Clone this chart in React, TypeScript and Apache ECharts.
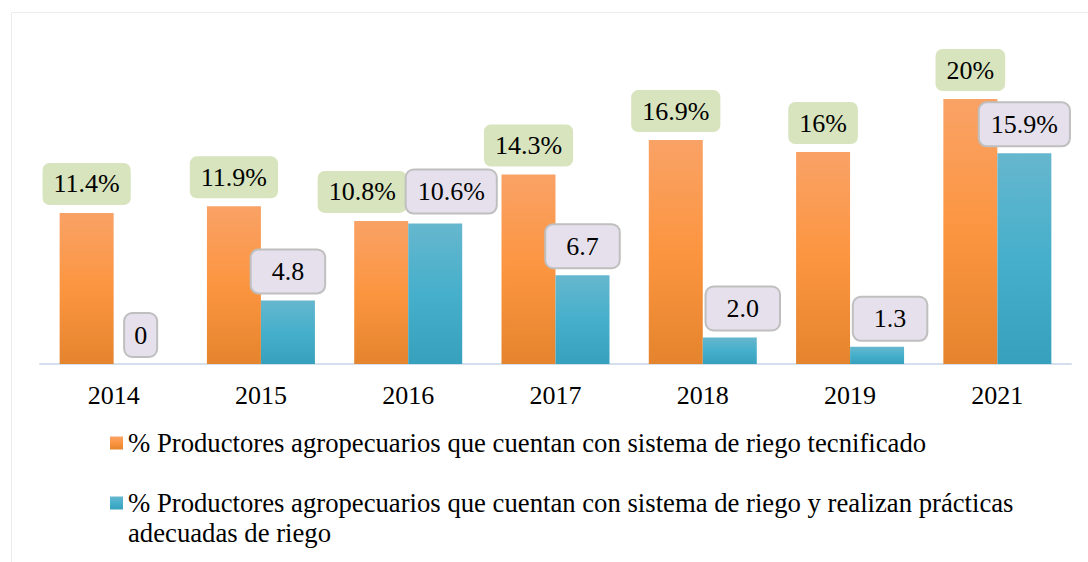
import React, { useEffect, useRef } from "react";
import * as echarts from "echarts";

const years = ["2014", "2015", "2016", "2017", "2018", "2019", "2021"];
const tecnificado = [11.4, 11.9, 10.8, 14.3, 16.9, 16, 20];
const practicas = [0, 4.8, 10.6, 6.7, 2.0, 1.3, 15.9];
const tecnificadoLabels = ["11.4%", "11.9%", "10.8%", "14.3%", "16.9%", "16%", "20%"];
const practicasLabels = ["0", "4.8", "10.6%", "6.7", "2.0", "1.3", "15.9%"];
const legendLines1 = ["% Productores agropecuarios que cuentan con sistema de riego tecnificado"];
const legendLines2 = [
  "% Productores agropecuarios que cuentan con sistema de riego y realizan prácticas",
  "adecuadas de riego",
];
const seriesNames = [legendLines1.join(" "), legendLines2.join(" ")];

const FONT = "Liberation Serif";

const orangeGrad = new echarts.graphic.LinearGradient(0, 0, 0, 1, [
  { offset: 0, color: "#f9a266" },
  { offset: 0.5, color: "#fc9540" },
  { offset: 1, color: "#e5842e" },
]);
const blueGrad = new echarts.graphic.LinearGradient(0, 0, 0, 1, [
  { offset: 0, color: "#66b7ce" },
  { offset: 0.5, color: "#46afcb" },
  { offset: 1, color: "#37a0bc" },
]);

const bluePad = (t: string) => (t.length <= 1 ? [8, 9] : t.length <= 3 ? [8, 20] : [8, 11]);
// label nudges (pixels) to keep boxes clear of neighbouring bars
const orangeOffsets: Record<number, number[]> = { 2: [-19, 0] };
const blueOffsets: Record<number, number[]> = { 2: [16, -3], 4: [13, 0], 5: [13, 1] };

const labelRich = {
  t: { fontFamily: FONT, fontSize: 26, lineHeight: 26, color: "#000" },
};

export default function App() {
  const ref = useRef<HTMLDivElement>(null);
  useEffect(() => {
    if (!ref.current) return;
    const chart = echarts.init(ref.current, undefined, { renderer: "svg" });
    const option: any = {
      animation: false,
      backgroundColor: "#ffffff",
      textStyle: { fontFamily: FONT },
      graphic: [
        {
          type: "rect",
          z: -10,
          shape: { x: 11.5, y: 12.5, width: 1100, height: 600 },
          style: { fill: "none", stroke: "#ececec", lineWidth: 1 },
        },
      ],
      grid: { left: 40, right: 17, top: 99, bottom: 198 },
      xAxis: {
        type: "category",
        data: years,
        axisLine: { lineStyle: { color: "#d5e0ef", width: 2 } },
        axisTick: { show: false },
        axisLabel: { color: "#000", fontSize: 26, fontFamily: FONT, margin: 18 },
      },
      yAxis: { type: "value", min: 0, max: 20, show: false, splitLine: { show: false } },
      legend: {
        orient: "vertical",
        left: 110,
        top: 428,
        height: 300,
        padding: 0,
        itemGap: 0,
        itemWidth: 13,
        itemHeight: 13,
        icon: "rect",
        textStyle: { fontSize: 26.7, fontFamily: FONT, color: "#000", lineHeight: 30 },
        formatter: (name: string) =>
          name === seriesNames[1] ? "\n" + legendLines2.join("\n") : legendLines1.join("\n"),
        data: [{ name: seriesNames[0] }, { name: seriesNames[1] }],
      },
      series: [
        {
          name: seriesNames[0],
          type: "bar",
          barWidth: 54,
          barGap: "0%",
          itemStyle: { color: orangeGrad },
          label: {
            show: true,
            position: "top",
            distance: 8,
            fontSize: 26,
            lineHeight: 26,
            fontFamily: FONT,
            color: "#000",
            backgroundColor: "#d7e4bd",
            borderRadius: 7,
            padding: [8, 11],
            rich: labelRich,
            formatter: (p: any) => `{t|${tecnificadoLabels[p.dataIndex]}}`,
          },
          data: tecnificado.map((v, i) => ({
            value: v,
            label: orangeOffsets[i] ? { offset: orangeOffsets[i] } : {},
          })),
        },
        {
          name: seriesNames[1],
          type: "bar",
          barWidth: 54,
          barGap: "0%",
          itemStyle: { color: blueGrad },
          label: {
            show: true,
            position: "top",
            distance: 8,
            fontSize: 26,
            lineHeight: 26,
            fontFamily: FONT,
            color: "#000",
            backgroundColor: "#e6e0ec",
            borderColor: "#bfbfbf",
            borderWidth: 2,
            borderRadius: 7,
            rich: labelRich,
            formatter: (p: any) => `{t|${practicasLabels[p.dataIndex]}}`,
          },
          data: practicas.map((v, i) => ({
            value: v,
            label: {
              padding: bluePad(practicasLabels[i]),
              ...(blueOffsets[i] ? { offset: blueOffsets[i] } : {}),
            },
          })),
        },
      ],
    };
    chart.setOption(option);
    return () => chart.dispose();
  }, []);
  return (
    <div
      ref={ref}
      style={{ position: "fixed", left: 0, top: 0, width: 1088, height: 562 }}
    />
  );
}
